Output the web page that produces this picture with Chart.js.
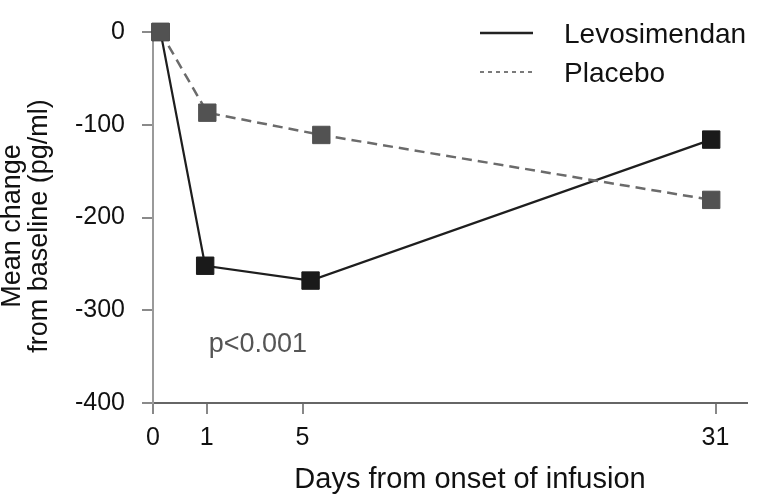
<!DOCTYPE html>
<html lang="en">
<head>
<meta charset="UTF-8">
<title>Mean change from baseline</title>
<script src="https://cdn.jsdelivr.net/npm/chart.js"></script>
<style>
  body { margin: 0; background: #fff; }
</style>
</head>
<body>
<canvas id="myChart" width="760" height="504"></canvas>
<script>
// the day axis is drawn schematically, so x values are positions on that axis
const dayLabels = ['0', '1', '5', '31'];
const dayTickPos = [0, 1, 2.78, 10.46];

const levoX = [0.14, 0.97, 2.93, 10.38];
const levoY = [0, -252, -268, -116];
const placeboX = [0.14, 1.01, 3.13, 10.38];
const placeboY = [0, -87, -111, -181];

const pValueText = 'p<0.001';
const pValueAt = [1.95, -337];

const FONT = '"Liberation Sans", Arial, Helvetica, sans-serif';

function toPoints(xs, ys) {
    return xs.map((x, i) => ({ x: x, y: ys[i] }));
}

// titles, legend and the p value note
const extras = {
    id: 'extras',
    afterDraw(chart) {
        const ctx = chart.ctx;
        const xs = chart.scales.x;
        const ys = chart.scales.y;
        ctx.save();

        ctx.fillStyle = '#111';
        ctx.font = '29px ' + FONT;
        ctx.textAlign = 'center';
        ctx.textBaseline = 'alphabetic';
        ctx.fillText('Days from onset of infusion', 470, 488);

        ctx.font = '27px ' + FONT;
        [['Mean change', 20], ['from baseline (pg/ml)', 47]].forEach(([txt, bx]) => {
            ctx.save();
            ctx.translate(bx, 226);
            ctx.rotate(-Math.PI / 2);
            ctx.fillText(txt, 0, 0);
            ctx.restore();
        });

        // legend
        chart.data.datasets.forEach((ds, i) => {
            const y = 33 + i * 39;
            ctx.strokeStyle = ds.legendColor;
            ctx.lineWidth = ds.legendWidth;
            ctx.setLineDash(ds.legendDash);
            ctx.beginPath();
            ctx.moveTo(480, y);
            ctx.lineTo(533, y);
            ctx.stroke();
            ctx.setLineDash([]);
            ctx.fillStyle = '#111';
            ctx.font = '28px ' + FONT;
            ctx.textAlign = 'left';
            ctx.fillText(ds.label, 564, y + 10);
        });

        ctx.fillStyle = '#555';
        ctx.font = '27px ' + FONT;
        ctx.textAlign = 'center';
        ctx.textBaseline = 'middle';
        ctx.fillText(pValueText, xs.getPixelForValue(pValueAt[0]), ys.getPixelForValue(pValueAt[1]));
        ctx.restore();
    }
};

const ctx = document.getElementById('myChart').getContext('2d');
const myChart = new Chart(ctx, {
    type: 'line',
    data: {
        datasets: [{
            label: 'Levosimendan',
            data: toPoints(levoX, levoY),
            borderColor: '#1e1e1e',
            borderWidth: 2.2,
            pointStyle: 'rect',
            pointRadius: 12.3,
            pointBackgroundColor: '#1a1a1a',
            pointBorderColor: '#1a1a1a',
            pointBorderWidth: 1,
            clip: false,
            order: 1,
            legendColor: '#222',
            legendWidth: 2.5,
            legendDash: []
        }, {
            label: 'Placebo',
            data: toPoints(placeboX, placeboY),
            borderColor: '#6b6b6b',
            borderWidth: 2.5,
            borderDash: [10, 6],
            pointStyle: 'rect',
            pointRadius: 12.3,
            pointBackgroundColor: '#525252',
            pointBorderColor: '#525252',
            pointBorderWidth: 1,
            clip: false,
            order: 0,
            legendColor: '#7a7a7a',
            legendWidth: 2,
            legendDash: [4, 4]
        }]
    },
    options: {
        responsive: false,
        devicePixelRatio: 1,
        animation: false,
        events: [],
        layout: { padding: { top: 18, right: 11, left: 0, bottom: 0 } },
        plugins: {
            legend: { display: false },
            tooltip: { enabled: false }
        },
        scales: {
            x: {
                type: 'linear',
                min: 0,
                max: 11.04,
                afterBuildTicks: (axis) => {
                    axis.ticks = dayTickPos.map(v => ({ value: v }));
                },
                afterFit: (axis) => { axis.height = 101; },
                border: { display: true, color: '#666', width: 2 },
                grid: { drawOnChartArea: false, drawTicks: true, tickLength: 11, color: '#888', lineWidth: 2 },
                ticks: {
                    autoSkip: false,
                    maxRotation: 0,
                    padding: 9,
                    color: '#111',
                    font: { family: FONT, size: 25 },
                    callback: (value, index) => dayLabels[index]
                }
            },
            y: {
                min: -400,
                max: 0,
                afterFit: (axis) => { axis.width = 153; },
                border: { display: true, color: '#9a9a9a', width: 2 },
                grid: { drawOnChartArea: false, drawTicks: true, tickLength: 11, color: '#8a8a8a', lineWidth: 2 },
                ticks: {
                    stepSize: 100,
                    padding: 17,
                    color: '#111',
                    font: { family: FONT, size: 25 },
                    callback: (value) => String(value)
                }
            }
        }
    },
    plugins: [extras]
});
</script>
</body>
</html>
